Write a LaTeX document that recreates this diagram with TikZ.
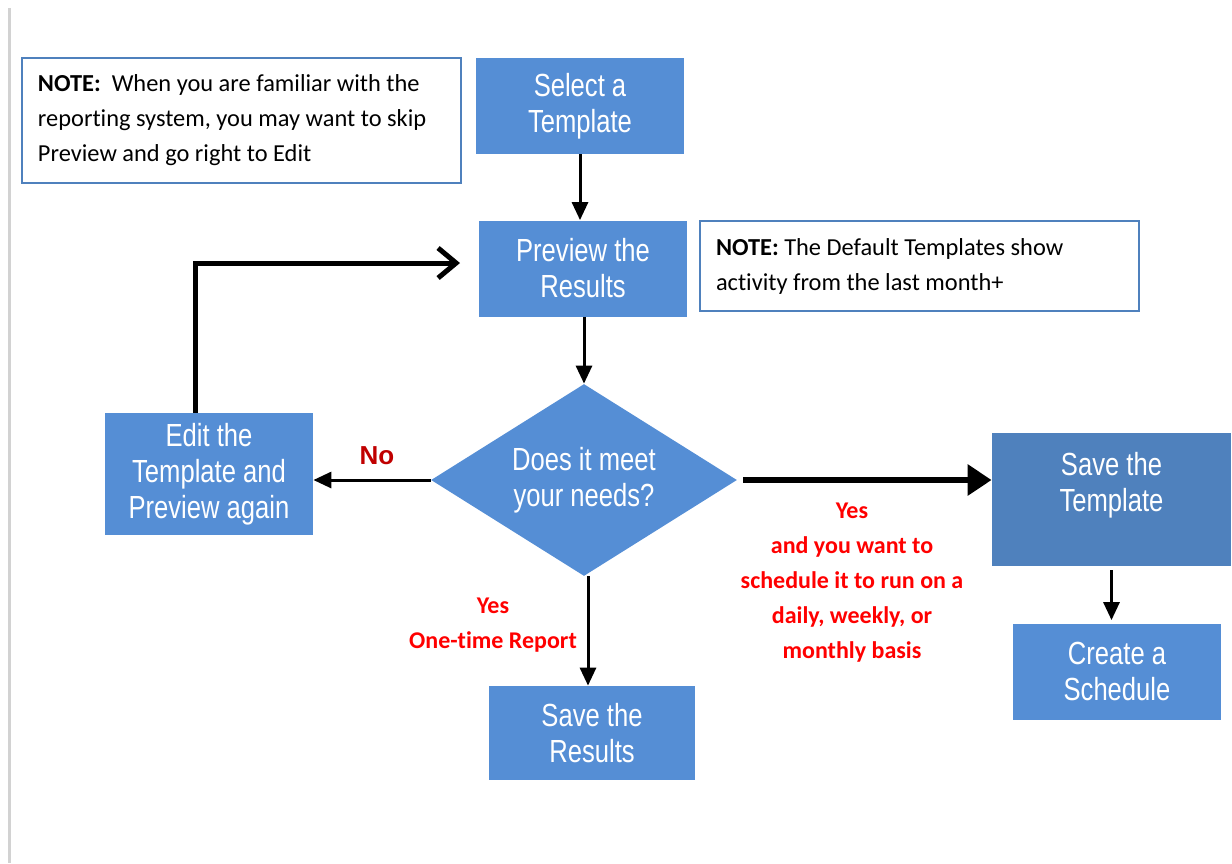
\documentclass[tikz,border=0pt]{standalone}
\usepackage{fontspec}
\setmainfont[Ligatures=NoCommon]{Carlito}
\newfontfamily\boxfont[FakeStretch=0.8]{Liberation Sans}
\newfontfamily\nofont{Liberation Sans}
\usetikzlibrary{arrows.meta,positioning,calc,shapes.geometric}

\definecolor{boxblue}{RGB}{85,142,213}
\definecolor{darkblue}{RGB}{79,129,189}
\definecolor{noteline}{RGB}{79,129,189}
\definecolor{nored}{RGB}{192,0,0}

\tikzset{
    stepbox/.style={fill=boxblue, draw=none, text=white, font=\boxfont\fontsize{16}{18}\selectfont,
        align=center, minimum width=104pt, minimum height=48pt, inner sep=2pt},
    notebox/.style={draw=noteline, line width=0.6pt, fill=white, font=\fontsize{12.2}{17.5}\selectfont,
        align=flush left, text width=203.5pt, inner xsep=8pt},
    redlabel/.style={text=red, font=\bfseries\fontsize{12}{17.5}\selectfont, align=center},
    flow/.style={-{Triangle[length=9pt,width=8pt]}, line width=1.5pt},
}

\begin{document}
\begin{tikzpicture}[x=0.5pt,y=-0.5pt]

    \useasboundingbox (0,0) rectangle (1232,863);
    %\draw[step=50,help lines] (0,0) grid (1232,863);

    % page shadow on the left
    \draw[gray!35, line width=1.5pt] (9,8) -- (9,863);

    \node[notebox, minimum height=62.5pt] (note_edit) at(241.5,120.5)
        {\textbf{NOTE:}\ \ When you are familiar with the\\reporting system, you may want to skip\\Preview and go right to Edit};
    \node[notebox, minimum height=45pt] (note_default) at(919.5,266)
        {\textbf{NOTE:} The Default Templates show\\activity from the last month+};

    \node[stepbox] (select) at(580,106) {Select a\\Template};
    \node[stepbox] (preview) at(583,268.5) {Preview the\\Results};
    \node[diamond, aspect=1.6, fill=boxblue, text=white, font=\boxfont\fontsize{16}{18}\selectfont, align=center,
        minimum width=153pt, minimum height=96pt, inner sep=0pt] (meet) at(584,480) {Does it meet\\your needs?};
    \node[stepbox, minimum height=61pt] (edit) at(209,474) {Edit the\\Template and\\Preview again};
    \node[stepbox, fill=darkblue, minimum width=119.5pt, minimum height=66.5pt] (save_tpl) at(1111.5,499.5)
        {Save the\\Template\\~};
    \node[stepbox] (schedule) at(1117,671.5) {Create a\\Schedule};
    \node[stepbox, minimum width=103pt, minimum height=47pt] (save_res) at(592,733) {Save the\\Results};

    \node[font=\nofont\bfseries\fontsize{13}{15}\selectfont, text=nored] (no) at(377,456) {No};
    \node[redlabel] (yes_once) at(493,625) {Yes\\One-time Report};
    \node[redlabel] (yes_sched) at(852,583) {Yes\\and you want to\\schedule it to run on a\\daily, weekly, or\\monthly basis};

    \coordinate (loop_start) at ($(edit.north)+(-14,0)$);
    \coordinate (loop_corner) at (loop_start |- 0,263);
    \coordinate (loop_end) at (460,263);
    \coordinate (yes_start) at ($(meet.east)+(6,0)$);

    \draw[flow] (select.south) to (select.south |- preview.north);
    \draw[flow] (preview.south -| meet.north) to (meet.north);
    \draw[flow] (meet.south) ++(4,0) to ($(meet.south |- save_res.north)+(4,0)$);
    \draw[flow] (meet.west) to (meet.west -| edit.east);
    \draw[-{Triangle[length=12pt,width=15pt]}, line width=3pt] (yes_start) to (yes_start -| save_tpl.west);
    \draw[flow] ($(save_tpl.south)+(0,4)$) to ($(save_tpl.south |- schedule.north)+(0,-3)$);
    \draw[-{Straight Barb[length=9pt,width=15pt,line width=2.5pt]}, line width=2.5pt, line join=miter]
        (loop_start) to (loop_corner) to (loop_end);

\end{tikzpicture}
\end{document}
